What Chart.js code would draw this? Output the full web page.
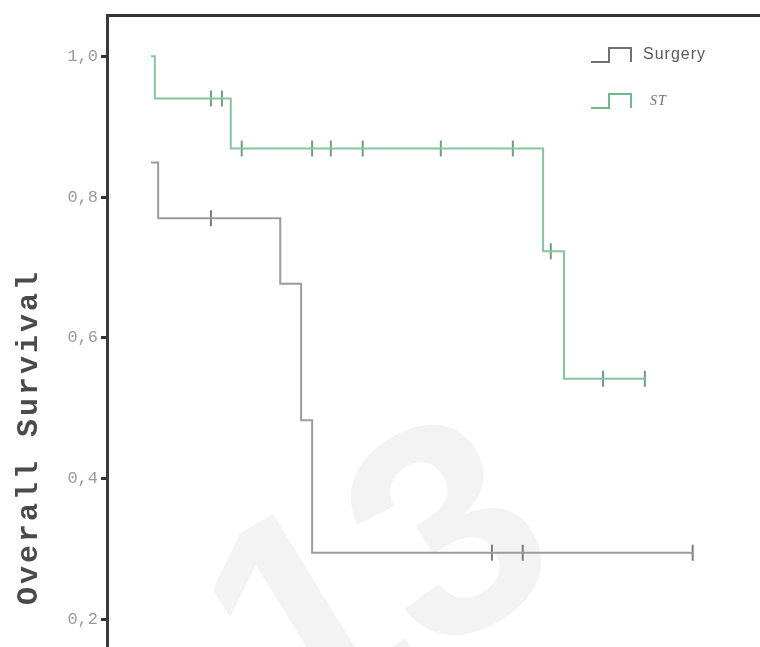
<!DOCTYPE html>
<html>
<head>
<meta charset="utf-8">
<script src="https://cdn.jsdelivr.net/npm/chart.js@4.4.0/dist/chart.umd.min.js"></script>
<style>
  html, body { margin: 0; padding: 0; background: #fff; overflow: hidden; width: 760px; height: 647px; }
  canvas { display: block; }
</style>
</head>
<body>
<canvas id="km" width="800" height="860"></canvas>
<script>
// Kaplan-Meier data (time in months, survival fraction)
const surgeryTime = [0, 1.3, 23.5, 27.3, 29.3, 98.5];
const surgerySurv = [0.849, 0.770, 0.677, 0.483, 0.295, 0.295];
const surgeryCensored = [10.9, 62.0, 67.6, 98.5];

const stTime = [0, 0.7, 14.5, 71.3, 75.1, 89.8];
const stSurv = [1.0, 0.94, 0.869, 0.723, 0.542, 0.542];
const stCensored = [10.9, 12.9, 16.5, 29.3, 32.7, 38.5, 52.7, 65.8, 72.7, 82.2, 89.8];

const yTicks = [0, 0.2, 0.4, 0.6, 0.8, 1.0];
const groupNames = ['Surgery', 'ST'];

const GRAY = '#9c9c9c';
const GREEN = '#86c5a0';

// survival value at time t for a step curve
function survAt(times, surv, t) {
    let v = surv[0];
    for (let i = 0; i < times.length; i++) {
        if (times[i] <= t) v = surv[i];
    }
    return v;
}

function curve(times, surv) {
    return times.map((t, i) => ({ x: t, y: surv[i] }));
}

function censorPoints(times, surv, cens) {
    return cens.map(t => ({ x: t, y: survAt(times, surv, t) }));
}

// axis title, legend and watermark
const extrasPlugin = {
    id: 'extras',
    beforeDatasetsDraw(chart) {
        const ctx = chart.ctx;
        // faint watermark behind the curves
        ctx.save();
        ctx.translate(385, 590);
        ctx.rotate(-0.55);
        ctx.fillStyle = '#f3f3f3';
        ctx.font = 'bold 300px "Liberation Sans"';
        ctx.textAlign = 'center';
        ctx.textBaseline = 'middle';
        ctx.fillText('13', 0, 0);
        ctx.restore();
    },
    afterDraw(chart) {
        const ctx = chart.ctx;

        ctx.save();
        ctx.translate(37, 605);
        ctx.rotate(-Math.PI / 2);
        ctx.font = 'bold 30px "Liberation Mono"';
        ctx.letterSpacing = '3px';
        ctx.fillStyle = '#4a4a4a';
        ctx.textAlign = 'left';
        ctx.textBaseline = 'alphabetic';
        ctx.fillText('Overall Survival', 0, 0);
        ctx.restore();

        // legend with small step glyphs
        const items = [
            { label: groupNames[0], color: '#707070', y: 55, font: '16px "Liberation Sans"', text: '#5a5a5a', tx: 643 },
            { label: groupNames[1], color: '#6fb88c', y: 101, font: 'italic 14px "Liberation Serif"', text: '#707070', tx: 650 }
        ];
        items.forEach(it => {
            ctx.save();
            ctx.strokeStyle = it.color;
            ctx.lineWidth = 2;
            ctx.beginPath();
            ctx.moveTo(591, it.y + 7);
            ctx.lineTo(609, it.y + 7);
            ctx.lineTo(609, it.y - 7);
            ctx.lineTo(631, it.y - 7);
            ctx.lineTo(631, it.y + 7);
            ctx.stroke();
            ctx.font = it.font;
            ctx.letterSpacing = '1px';
            ctx.fillStyle = it.text;
            ctx.textBaseline = 'middle';
            ctx.fillText(it.label, it.tx, it.y);
            ctx.restore();
        });
    }
};

new Chart(document.getElementById('km'), {
    data: {
        datasets: [
            {
                type: 'line',
                label: groupNames[0],
                data: curve(surgeryTime, surgerySurv),
                borderColor: GRAY,
                borderWidth: 2,
                stepped: 'before',
                pointRadius: 0,
                fill: false
            },
            {
                type: 'line',
                label: groupNames[1],
                data: curve(stTime, stSurv),
                borderColor: GREEN,
                borderWidth: 2,
                stepped: 'before',
                pointRadius: 0,
                fill: false
            },
            {
                type: 'scatter',
                label: groupNames[0] + ' censored',
                data: censorPoints(surgeryTime, surgerySurv, surgeryCensored),
                pointStyle: 'line',
                rotation: 90,
                pointRadius: 8,
                pointBorderWidth: 2,
                pointBorderColor: '#7c7c7c',
                showLine: false
            },
            {
                type: 'scatter',
                label: groupNames[1] + ' censored',
                data: censorPoints(stTime, stSurv, stCensored),
                pointStyle: 'line',
                rotation: 90,
                pointRadius: 8,
                pointBorderWidth: 2,
                pointBorderColor: '#6c9e82',
                showLine: false
            }
        ]
    },
    options: {
        responsive: false,
        animation: false,
        layout: { padding: { top: 15, right: 10, bottom: 10, left: 0 } },
        plugins: {
            legend: { display: false },
            tooltip: { enabled: false }
        },
        scales: {
            x: {
                type: 'linear',
                display: false,
                min: -8,
                max: 116.2
            },
            xTop: {
                type: 'linear',
                position: 'top',
                min: -8,
                max: 116.2,
                grid: { display: false, drawTicks: false },
                ticks: { display: false },
                border: { display: true, color: '#333', width: 3 },
                afterFit(scale) { scale.height = 0; }
            },
            y: {
                type: 'linear',
                min: -0.1225,
                max: 1.0586,
                afterBuildTicks(scale) {
                    scale.ticks = yTicks.map(v => ({ value: v }));
                },
                afterFit(scale) { scale.width = 107; },
                grid: {
                    drawOnChartArea: false,
                    tickLength: 6,
                    tickWidth: 3,
                    tickColor: '#333'
                },
                border: { display: true, color: '#3a3a3a', width: 3 },
                ticks: {
                    padding: 3,
                    color: '#9a9a9a',
                    font: { family: '"Liberation Mono"', size: 17 },
                    callback: v => v.toFixed(1).replace('.', ',')
                }
            }
        }
    },
    plugins: [extrasPlugin]
});
</script>
</body>
</html>
